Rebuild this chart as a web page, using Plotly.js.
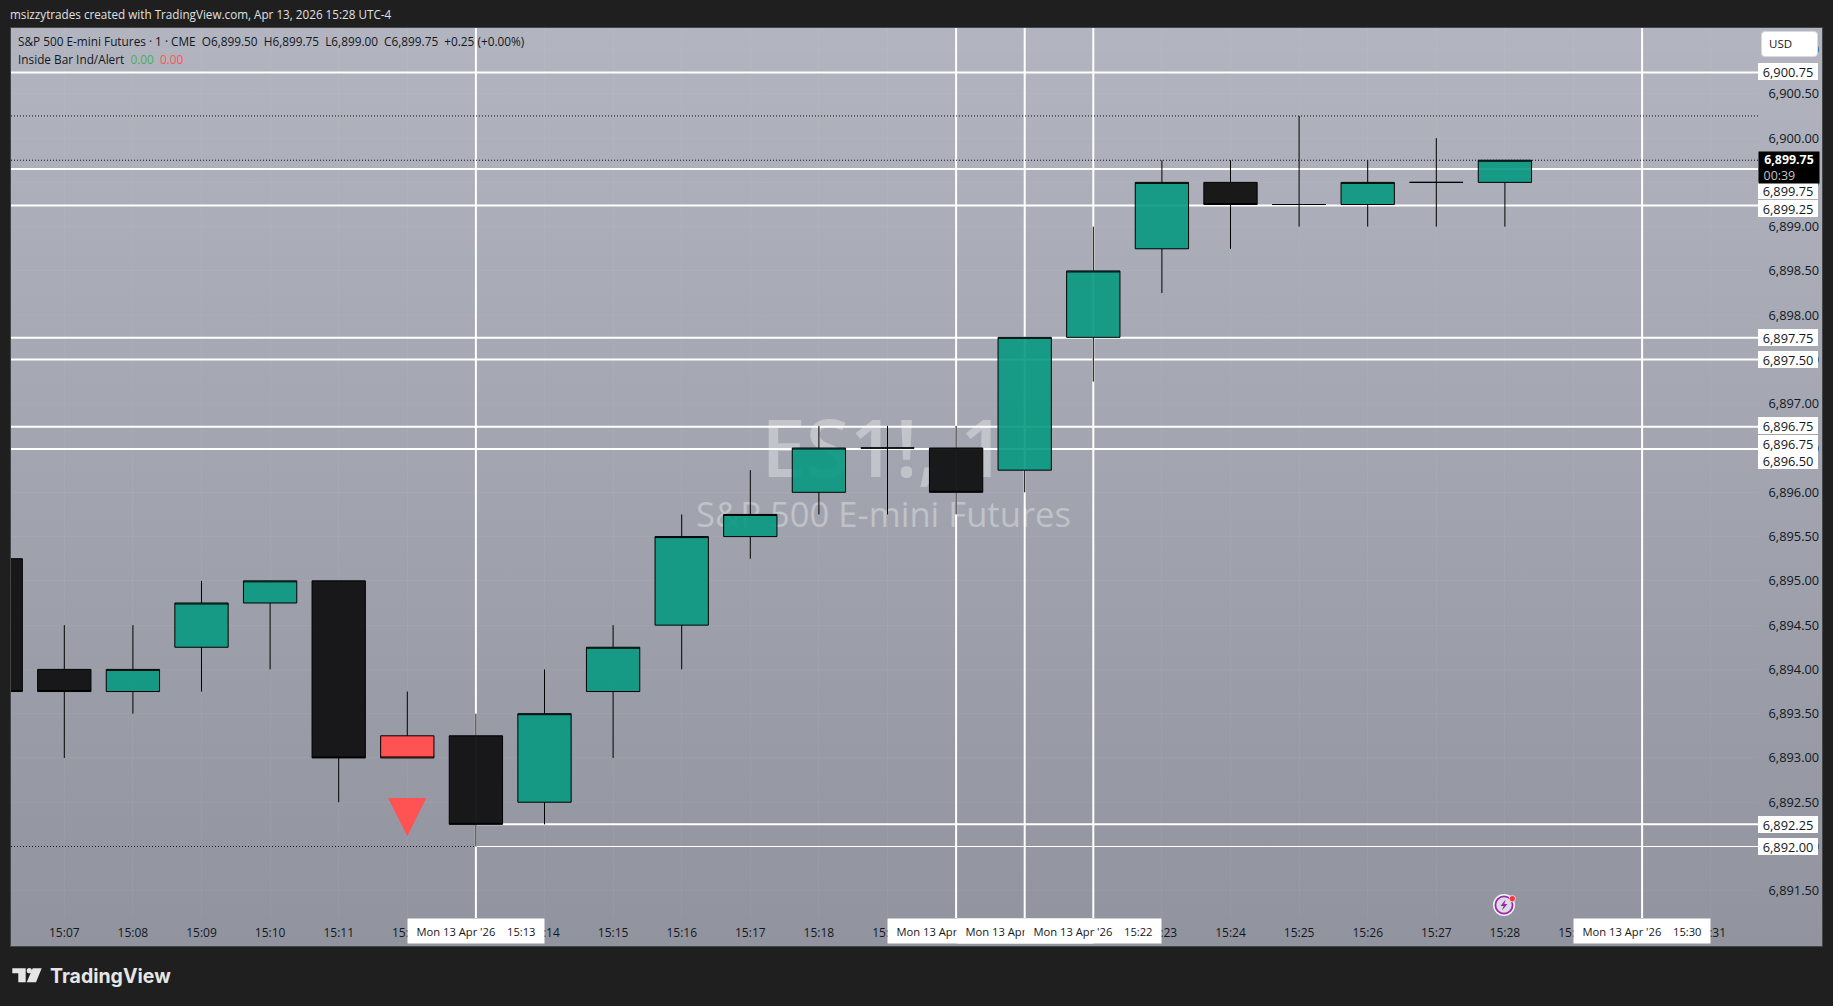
<!DOCTYPE html>
<html><head><meta charset="utf-8">
<script src="https://cdn.plot.ly/plotly-3.0.1.min.js"></script>
<style>
html,body{margin:0;padding:0;background:#1f1f1f;width:1833px;height:1006px;overflow:hidden}
#bg{position:absolute;left:11px;top:28px;width:1811px;height:918px;background:linear-gradient(180deg,#b2b5bf 0%,#91949e 100%);outline:1px solid #454545}
#wm{position:absolute;left:11px;top:28px;width:1748px;height:890px;overflow:hidden;font-family:'Open Sans',sans-serif;color:rgba(255,255,255,.34);text-align:center}
#wm .a{position:absolute;left:0;width:1745px;top:378px;font-size:80px;line-height:80px;font-weight:600;white-space:pre}
#wm .b{position:absolute;left:0;width:1745px;top:466px;font-size:34.6px;line-height:40px}
#chart{position:absolute;left:0;top:0;width:1833px;height:1006px}
#usd{position:absolute;left:1761px;top:31px;width:57px;height:26px;background:#fff;border-radius:4px;border:1px solid #d8dae0;box-sizing:border-box;font:11.5px 'Open Sans',sans-serif;color:#131722;line-height:24px;padding-left:7px}
#logo{position:absolute;left:11px;top:966px}
#bolt{position:absolute;left:1492px;top:893px}
</style></head><body>
<div id="bg"></div>
<div id="wm"><div class="a">ES1!, 1</div><div class="b">S&amp;P 500 E-mini Futures</div></div>
<div id="chart"></div>
<div id="usd">USD</div>
<svg id="logo" width="32" height="20" viewBox="0 0 32 20"><path d="M1.3 2.3H14.7V16.3H7.3V7.3H1.3Z M21.7 2.3H30.7L25 16.3H15.7Z" fill="#e6e6e6"/><circle cx="18.3" cy="4.7" r="2.6" fill="#e6e6e6"/></svg>
<svg id="bolt" width="26" height="24" viewBox="0 0 26 24"><circle cx="12" cy="12" r="11" fill="#f4f4f6"/><circle cx="12" cy="12" r="8.6" fill="#dcdce2" stroke="#9c27b0" stroke-width="1.8"/><path d="M13.6 6.5 L8.5 13 H11.6 L10 17.5 L15.5 11 H12.4Z" fill="#9c27b0"/><circle cx="20.3" cy="5.7" r="3.2" fill="#f23645" stroke="#f4f4f6" stroke-width=".8"/></svg>
<script>
const upTimes   = ['15:08','15:09','15:10','15:14','15:15','15:16','15:17','15:18','15:21','15:22','15:23','15:26','15:28'];
const upOpen    = [6893.75,6894.25,6894.75,6892.50,6893.75,6894.50,6895.50,6896.00,6896.25,6897.75,6898.75,6899.25,6899.50];
const upHigh    = [6894.50,6895.00,6895.00,6894.00,6894.50,6895.75,6896.25,6896.75,6897.75,6899.00,6899.75,6899.75,6899.75];
const upLow     = [6893.50,6893.75,6894.00,6892.25,6893.00,6894.00,6895.25,6895.75,6896.00,6897.25,6898.25,6899.00,6899.00];
const upClose   = [6894.00,6894.75,6895.00,6893.50,6894.25,6895.50,6895.75,6896.50,6897.75,6898.50,6899.50,6899.50,6899.75];

const downTimes = ['15:06','15:07','15:11','15:13','15:19','15:20','15:24','15:25','15:27'];
const downOpen  = [6895.25,6894.00,6895.00,6893.25,6896.50,6896.50,6899.50,6899.25,6899.50];
const downHigh  = [6895.25,6894.50,6895.00,6893.50,6896.75,6896.75,6899.75,6900.25,6900.00];
const downLow   = [6893.75,6893.00,6892.50,6892.00,6895.75,6895.75,6898.75,6899.00,6899.00];
const downClose = [6893.75,6893.75,6893.00,6892.25,6896.50,6896.00,6899.25,6899.25,6899.50];

const insideTimes = ['15:12'];
const insideOpen  = [6893.25];
const insideHigh  = [6893.75];
const insideLow   = [6893.00];
const insideClose = [6893.00];

const signalTimes = ['15:12'];
const signalPrice = [6892.33];

const hLines  = [6900.74,6899.65,6899.24,6897.745,6897.50,6896.74,6896.49];
const hLinesFrom1513 = [6892.25,6892.00];
const dotted  = [6900.25,6899.75,6892.00];
const vTimes  = ['15:13','15:20','15:21','15:22','15:30'];
const priceLabels = [6900.75,6899.75,6899.25,6897.75,6897.50,6896.75,6896.75,6896.50,6892.25,6892.00];
const priceShift  = [0,-30.5,-3.5,0,0,0,-17.4,-12.3,0,0];
const lastPrice = 6899.75, countdown = '00:39';
const headerText = "S&P 500 E-mini Futures · 1 · CME&nbsp;&nbsp;O6,899.50&nbsp;&nbsp;H6,899.75&nbsp;&nbsp;L6,899.00&nbsp;&nbsp;C6,899.75&nbsp;&nbsp;+0.25 (+0.00%)";
const FONT = "'Open Sans', sans-serif";
const DAY = '2026-04-13 ';
const t = s => DAY + s;
const T0 = new Date(2026,3,13,15,7).getTime();
const STEP_PX = 68.6, X0 = 64.3, L = 11, R = 1758, TOP = 28, BOT = 918;
const PX_PT = 88.55, Y6900 = 138.1;
const MIN = 60000;
const toStr = m => { const d = new Date(T0 + m); const p=n=>String(n).padStart(2,'0'); return `2026-04-13 ${p(d.getHours())}:${p(d.getMinutes())}:${p(d.getSeconds())}.${String(d.getMilliseconds()).padStart(3,'0')}`; };
const xRange = [toStr((L-X0)/STEP_PX*MIN), toStr((R-X0)/STEP_PX*MIN)];
const yRange = [6900-(BOT-Y6900)/PX_PT, 6900+(Y6900-TOP)/PX_PT];

const candle = (x,o,h,l,c,color) => ({type:'candlestick', x:x.map(t), open:o, high:h, low:l, close:c, whiskerwidth:0,
  increasing:{line:{color:'#000',width:1},fillcolor:color}, decreasing:{line:{color:'#000',width:1},fillcolor:color},
  hoverinfo:'skip', showlegend:false});
const traces = [
  candle(upTimes,upOpen,upHigh,upLow,upClose,'rgba(8,153,129,0.9)'),
  candle(downTimes,downOpen,downHigh,downLow,downClose,'rgba(19,19,20,0.96)'),
  candle(insideTimes,insideOpen,insideHigh,insideLow,insideClose,'#ff5252'),
  {type:'scatter',mode:'text',x:signalTimes.map(t),y:signalPrice,text:['▼'],textposition:'middle center',
   textfont:{family:'DejaVu Sans',size:50,color:'#ff5252'},hoverinfo:'skip',showlegend:false}
];

const shapes = [];
vTimes.forEach(s=>shapes.push({type:'line',layer:'below',xref:'x',x0:t(s),x1:t(s),yref:'paper',y0:0,y1:1,line:{color:'#fff',width:2}}));
hLines.forEach(v=>shapes.push({type:'line',layer:'below',xref:'paper',x0:0,x1:1,yref:'y',y0:v,y1:v,line:{color:'#fff',width:2}}));
hLinesFrom1513.forEach(v=>shapes.push({type:'line',layer:'below',xref:'x',x0:t('15:13'),x1:xRange[1],yref:'y',y0:v,y1:v,line:{color:'#fff',width:v===6892.00?1:2}}));
dotted.forEach(v=>shapes.push({type:'line',layer:'below',xref:'paper',x0:0,x1:1,yref:'y',y0:v,y1:v,line:{color:'#111',width:1,dash:'1px,2px'}}));

const ann = [];
ann.push({xref:'paper',yref:'paper',x:(16-L)/(R-L),y:(BOT-41)/(BOT-TOP),xanchor:'left',yanchor:'middle',showarrow:false,align:'left',text:headerText,font:{family:FONT,size:11.8,color:'#131722'}});
ann.push({xref:'paper',yref:'paper',x:(16-L)/(R-L),y:(BOT-59)/(BOT-TOP),xanchor:'left',yanchor:'middle',showarrow:false,align:'left',text:"Inside Bar Ind/Alert&nbsp;&nbsp;<span style='color:#4caf50'>0.00</span>&nbsp;&nbsp;<span style='color:#ff5252'>0.00</span>",font:{family:FONT,size:11.8,color:'#131722'}});
priceLabels.forEach((v,i)=>ann.push({xref:'paper',yref:'y',x:1,y:v,yshift:priceShift[i],xanchor:'left',yanchor:'middle',showarrow:false,
  width:60,height:17,borderpad:0,borderwidth:0,bgcolor:'#fff',align:'center',text:v.toLocaleString('en-US',{minimumFractionDigits:2}),font:{family:FONT,size:12.8,color:'#131722'}}));
ann.push({xref:'paper',yref:'y',x:1,y:lastPrice,xanchor:'left',yanchor:'middle',yshift:-7.5,showarrow:false,width:60,height:31,borderpad:0,bgcolor:'#000',align:'center',
  text:"<b>"+lastPrice.toLocaleString('en-US',{minimumFractionDigits:2})+"</b><br><span style='color:#c4c4c4'>"+countdown+"&nbsp;&nbsp;&nbsp;&nbsp;&nbsp;&nbsp;</span>",font:{family:FONT,size:12.4,color:'#fff'}});
vTimes.forEach(s=>ann.push({xref:'x',yref:'paper',x:t(s),y:0,xanchor:'center',yanchor:'top',showarrow:false,width:136,height:24,borderpad:0,bgcolor:'#fff',align:'center',
  text:"Mon 13 Apr '26&nbsp;&nbsp;&nbsp;&nbsp;"+s,font:{family:FONT,size:11.2,color:'#131722'}}));
ann.push({xref:'paper',yref:'paper',x:(48-L)/(R-L),y:(BOT-976)/(BOT-TOP),xanchor:'left',yanchor:'middle',showarrow:false,text:'<b>TradingView</b>',font:{family:'Inter, sans-serif',size:19.5,color:'#e6e6e6'}});

const layout = {
  width:1833,height:1006,
  margin:{l:L,r:1833-R,t:TOP,b:1006-BOT,pad:0},
  paper_bgcolor:'rgba(0,0,0,0)',plot_bgcolor:'rgba(0,0,0,0)',
  boxgap:0.223,boxgroupgap:0,
  title:{text:'msizzytrades created with TradingView.com, Apr 13, 2026 15:28 UTC-4',xref:'container',yref:'container',x:10/1833,xanchor:'left',y:1-15/1006,yanchor:'middle',font:{family:FONT,size:11.7,color:'#e0e0e0'}},
  showlegend:false,
  xaxis:{type:'date',range:xRange,dtick:60000,tick0:t('15:00'),tickformat:'%H:%M',rangeslider:{visible:false},
    showgrid:true,gridcolor:'rgba(255,255,255,0.045)',gridwidth:1,zeroline:false,showline:false,
    ticks:'outside',ticklen:4,tickcolor:'rgba(0,0,0,0)',tickangle:0,tickfont:{family:FONT,size:12,color:'#131722'},automargin:false,fixedrange:true},
  yaxis:{side:'right',range:yRange,dtick:0.5,tick0:6900,tickformat:',.2f',
    showgrid:true,gridcolor:'rgba(255,255,255,0.045)',gridwidth:1,zeroline:false,showline:false,
    ticks:'outside',ticklen:7,tickcolor:'rgba(0,0,0,0)',tickfont:{family:FONT,size:12.8,color:'#131722'},automargin:false,fixedrange:true},
  shapes:shapes,annotations:ann,hovermode:false
};
Plotly.newPlot('chart',traces,layout,{displayModeBar:false,staticPlot:true});
</script></body></html>
